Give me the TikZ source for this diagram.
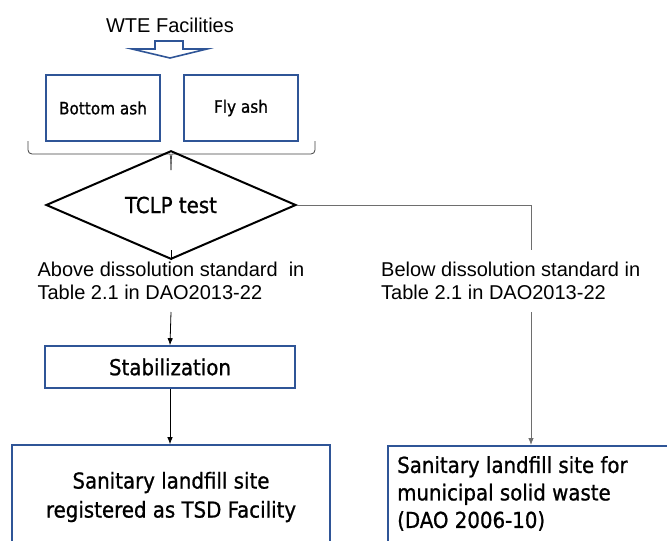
\documentclass[tikz,border=0pt]{standalone}
\usepackage{fontspec}
\setmainfont{Liberation Sans}
\newfontfamily\gfont[FakeBold=0.9]{DejaVu Sans Condensed}
\usetikzlibrary{shapes.geometric,arrows.meta}
\definecolor{boxblue}{HTML}{2F5597}
\definecolor{linegray}{HTML}{6E6E6E}
\tikzset{
  box/.style={draw=boxblue, line width=1.6pt, fill=white, inner sep=0pt, font=\gfont},
  lbl/.style={font=\fontsize{20}{23}\selectfont, align=left, inner sep=0pt},
  arr/.style={-{Latex[length=7pt,width=5.5pt]}, line width=0.8pt},
  plain/.style={line width=0.8pt}
}
\begin{document}
\begin{tikzpicture}[x=1pt,y=-1pt]
\useasboundingbox (0,0) rectangle (667,541);

% source
\node[font=\fontsize{20}{23}\selectfont, inner sep=0pt] (wte) at (170,25) {WTE Facilities};
\draw[draw=boxblue, line width=1.6pt, fill=white, line join=miter]
  (155,41) -- (183,41) -- (183,49) -- (207,49) -- (170,58) -- (132,49) -- (155,49) -- cycle;

% ash types
\node[box, minimum width=114pt, minimum height=66pt, font=\gfont\fontsize{17}{20}\selectfont] (bottom) at (103,108) {Bottom ash};
\node[box, minimum width=114pt, minimum height=66pt, font=\gfont\fontsize{17}{20}\selectfont] (fly) at (241,108) {Fly ash};

% grouping brace
\coordinate (tip) at (171,170);
\draw[draw=black!75, line width=0.8pt]
  [rounded corners=4pt] (28,141) |- (166,154) [sharp corners] .. controls (170,154) and (171,157) .. (tip);
\draw[draw=black!75, line width=0.8pt]
  [rounded corners=4pt] (315,141) |- (176,154) [sharp corners] .. controls (172,154) and (171,157) .. (tip);

% test
\node[draw, line width=2pt, shape=diamond, minimum width=250pt, minimum height=69pt,
      inner sep=0pt, font=\gfont\fontsize{22}{24}\selectfont] (tclp) at (171,205) {TCLP test};

% left branch
\coordinate (a1) at (171,250);
\coordinate (a2) at (171,312);
\node[lbl] (above) at (171,281) {Above dissolution standard \ in\\Table 2.1 in DAO2013-22};
\draw[plain] (tclp.south) -- (a1);

\node[box, minimum width=250pt, minimum height=42pt, font=\gfont\fontsize{22}{24}\selectfont] (stab) at (170,367) {Stabilization};
\draw[arr] (a2) -- (stab.north);

\node[box, minimum width=318pt, minimum height=106pt] (tsd) at (171,498) {};
\node[font=\gfont\fontsize{22}{29}\selectfont, align=center, inner sep=0pt] (tsdtxt) at (171,497) {Sanitary landfill site\\registered as TSD Facility};
\draw[arr] (stab.south) -- (stab.south |- tsd.north);

% right branch
\coordinate (b1) at (531,250);
\coordinate (b2) at (531,312);
\node[lbl, anchor=west] (below) at (381,281) {Below dissolution standard in\\Table 2.1 in DAO2013-22};
\draw[plain, draw=linegray] (tclp.east) -| (b1);

\node[box, minimum width=290pt, minimum height=106pt, anchor=north west] (msw) at (387,445) {};
\node[font=\gfont\fontsize{22}{27.5}\selectfont, align=left, anchor=north west, inner sep=0pt] (mswtxt) at (397,456) {Sanitary landfill site for\\municipal solid waste\\(DAO 2006-10)};
\draw[arr, draw=linegray] (b2) -- (b2 |- msw.north);
\end{tikzpicture}
\end{document}
